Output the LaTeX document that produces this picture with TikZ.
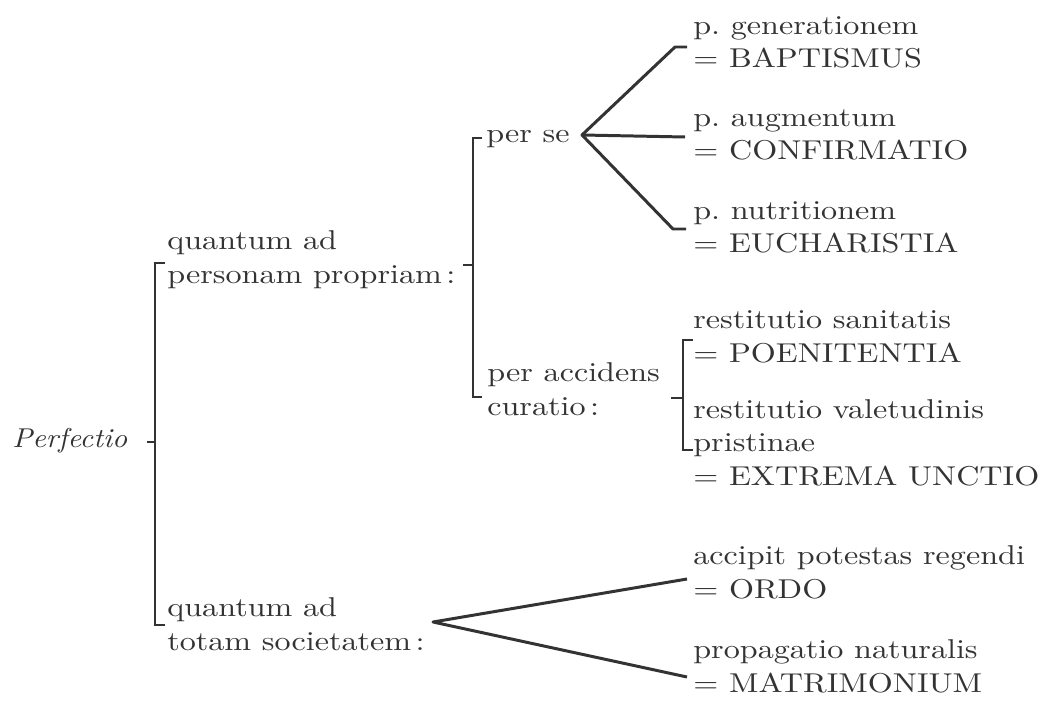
\documentclass[tikz,border=0pt]{standalone}
\usepackage{fontspec}
\setmainfont{lmroman10-regular.otf}[FakeStretch=1.18,ItalicFont=lmroman10-italic.otf,BoldFont=lmroman10-bold.otf]
\usepackage{tikz}
\usetikzlibrary{positioning,calc}
\definecolor{inkgray}{HTML}{333333}
\tikzset{
  lbl/.style={anchor=base west,inner sep=0pt,align=left,text=inkgray,font=\fontsize{15.5}{18.8}\selectfont},
  brk/.style={draw=inkgray,line width=1.4pt},
  fan/.style={draw=inkgray,line width=1.7pt,line join=round},
}
\begin{document}
\begin{tikzpicture}[x=0.02cm,y=-0.02cm]
  \useasboundingbox (0,0) rectangle (1050,702);
  % labels
  \node[lbl] (perf) at (12,447) {\scalebox{0.92}[1]{\textit{Perfectio}}};
  \node[lbl] (qpers) at (167,283) {quantum ad\\personam propriam\,:};
  \node[lbl] (qsoc) at (167,650) {quantum ad\\totam societatem\,:};
  \node[lbl] (perse) at (486,143) {per se};
  \node[lbl] (peracc) at (487,415) {per accidens\\curatio\,:};
  \node[lbl] (bapt) at (693,68) {p.\ generationem\\= BAPTISMUS};
  \node[lbl] (conf) at (693,160) {p.\ augmentum\\= CONFIRMATIO};
  \node[lbl] (euch) at (693,253) {p.\ nutritionem\\= EUCHARISTIA};
  \node[lbl] (poen) at (693,362) {restitutio sanitatis\\= POENITENTIA};
  \node[lbl] (unct) at (693,485) {restitutio valetudinis\\pristinae\\= EXTREMA UNCTIO};
  \node[lbl] (ordo) at (693,598) {accipit potestas regendi\\= ORDO};
  \node[lbl] (matr) at (693,692) {propagatio naturalis\\= MATRIMONIUM};
  % brackets
  \coordinate (mtop) at (155,263); \coordinate (mbot) at (155,625); \coordinate (mmid) at (155,442);
  \draw[brk] ($(mtop)+(10,0)$) -- (mtop) -- (mbot) -- ($(mbot)+(10,0)$);
  \draw[brk] ($(mmid)+(-8,0)$) -- (mmid);
  \coordinate (ptop) at (473,138); \coordinate (pbot) at (473,397); \coordinate (pmid) at (473,265);
  \draw[brk] ($(ptop)+(9,0)$) -- (ptop) -- (pbot) -- ($(pbot)+(9,0)$);
  \draw[brk] ($(pmid)+(-10,0)$) -- (pmid);
  \coordinate (ctop) at (683,340); \coordinate (cbot) at (683,450); \coordinate (cmid) at (683,398);
  \draw[brk] ($(ctop)+(10,0)$) -- (ctop) -- (cbot) -- ($(cbot)+(10,0)$);
  \draw[brk] ($(cmid)+(-12,0)$) -- (cmid);
  % fans
  \coordinate (sapex) at (582,135);
  \coordinate (s1) at (675,47); \coordinate (s2) at (685,137); \coordinate (s3) at (673,229);
  \draw[fan] ($(s1)+(12,0)$) -- (s1) -- (sapex) -- (s3) -- ($(s3)+(13,0)$);
  \draw[fan] (sapex) -- (s2);
  \coordinate (tapex) at (433,622);
  \coordinate (t1) at (687,579); \coordinate (t2) at (687,677);
  \draw[fan] (t1) -- (tapex) -- (t2);
\end{tikzpicture}
\end{document}
